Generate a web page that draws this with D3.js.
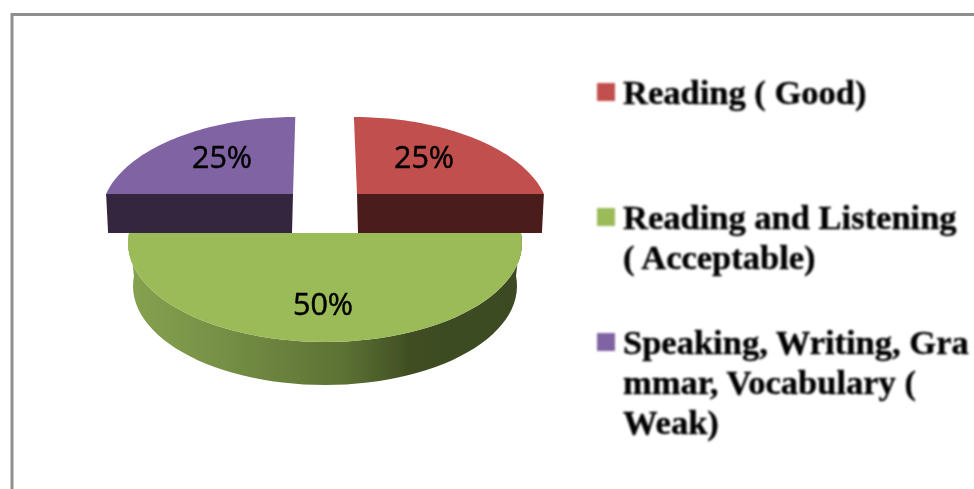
<!DOCTYPE html>
<html>
<head>
<meta charset="utf-8">
<script src="https://cdn.jsdelivr.net/npm/d3@7"></script>
<style>
html, body { margin: 0; padding: 0; background: #fff; overflow: hidden; }
svg { display: block; }
</style>
</head>
<body>
<div id="chart"></div>
<script>
// values
const categories = ["Reading ( Good)", "Reading and Listening ( Acceptable)", "Speaking, Writing, Grammar, Vocabulary ( Weak)"];
const shares = [25, 50, 25];
const legendLines = [
    ["Reading ( Good)"],
    ["Reading and Listening", "( Acceptable)"],
    ["Speaking, Writing, Gra", "mmar, Vocabulary (", "Weak)"]
];
const topColors = ["#c0504d", "#9bbb59", "#8064a2"];
const wallColors = ["#4c1d1b", null, "#35263f"];

const width = 974, height = 489;

// each slice has its own ellipse, the picture is drawn in perspective.
// cy is the cut line, the widest point of the ellipse sits "drop" px below it
const sliceGeo = [
    { cx: 357, cy: 194, drop: 20, rx: 191, ry: 97, depth: 39, shear: 0.04, taper: 2, labelX: 424, labelY: 168 },
    { cx: 325, cy: 233, drop: 10, rx: 197, ry: 99, depth: 43, shear: 0, taper: 5, labelX: 323, labelY: 315 },
    { cx: 293, cy: 194, drop: 20, rx: 191, ry: 97, depth: 39, shear: -0.03, taper: 2, labelX: 222, labelY: 168 }
];

const svg = d3.select("#chart").append("svg")
    .attr("width", width)
    .attr("height", height);

const defs = svg.append("defs");
defs.append("filter").attr("id", "soft")
    .append("feGaussianBlur").attr("stdDeviation", 0.6);
defs.append("filter").attr("id", "softer")
    .append("feGaussianBlur").attr("stdDeviation", 0.8);

const wallGrad = defs.append("linearGradient")
    .attr("id", "wallGreen")
    .attr("gradientUnits", "userSpaceOnUse")
    .attr("x1", 128).attr("x2", 522).attr("y1", 0).attr("y2", 0);
wallGrad.selectAll("stop")
    .data([[0, "#86a250"], [0.25, "#758f45"], [0.55, "#5c7134"], [0.72, "#3f4d22"], [1, "#3c4a20"]])
    .enter().append("stop")
    .attr("offset", d => d[0])
    .attr("stop-color", d => d[1]);

// page frame, open on the right and bottom
svg.append("path")
    .attr("d", d3.line()([[12, height], [12, 14.5], [width, 14.5]]))
    .attr("fill", "none")
    .attr("stroke", "#8e8e8e")
    .attr("stroke-width", 3);

const pie = d3.pie().sort(null)(shares);
const line = d3.line();

// pie angle -> angle on the ellipse, so every slice ends on its cut line
function warp(geo) {
    const limit = Math.acos(geo.drop / geo.ry);
    return d3.scaleLinear()
        .domain([0, Math.PI / 2, 3 * Math.PI / 2, 2 * Math.PI])
        .range([0, limit, 2 * Math.PI - limit, 2 * Math.PI]);
}

function rim(geo, a0, a1, dy, shrink) {
    const n = 60;
    const toEllipse = warp(geo);
    return d3.range(n + 1).map(i => {
        const a = toEllipse(a0 + (a1 - a0) * i / n);
        const y = geo.drop - Math.cos(a) * geo.ry;
        const x = Math.sin(a) * (geo.rx - shrink) + y * geo.shear;
        return [geo.cx + x, geo.cy + y + dy];
    });
}

function frontWall(geo, s) {
    return line([
        [geo.cx, geo.cy],
        [geo.cx + s * (geo.rx * Math.sin(warp(geo)(Math.PI / 2))), geo.cy],
        [geo.cx + s * (geo.rx * Math.sin(warp(geo)(Math.PI / 2)) - geo.taper), geo.cy + geo.depth],
        [geo.cx + s * 1, geo.cy + geo.depth]
    ]) + "Z";
}

const pieG = svg.append("g").attr("filter", "url(#soft)");

// green slice first, the two others sit in front of its back edge
[1, 0, 2].forEach(i => {
    const d = pie[i], geo = sliceGeo[i];
    const top = rim(geo, d.startAngle, d.endAngle, 0, 0);

    if (i === 1) {
        const bottom = rim(geo, d.startAngle, d.endAngle, geo.depth, geo.taper);
        pieG.append("path")
            .attr("d", line(top.concat(bottom.slice().reverse())) + "Z")
            .attr("fill", "url(#wallGreen)");
    } else {
        pieG.append("path")
            .attr("d", frontWall(geo, i === 0 ? 1 : -1))
            .attr("fill", wallColors[i]);
    }

    pieG.append("path")
        .attr("d", line([[geo.cx, geo.cy]].concat(top)) + "Z")
        .attr("fill", topColors[i]);
});

// data labels
svg.append("g").attr("filter", "url(#soft)")
    .selectAll("text")
    .data(shares)
    .enter().append("text")
    .attr("x", (d, i) => sliceGeo[i].labelX)
    .attr("y", (d, i) => sliceGeo[i].labelY)
    .attr("text-anchor", "middle")
    .attr("font-family", "'Open Sans', 'Noto Sans', sans-serif")
    .attr("font-size", 30.5)
    .attr("fill", "#000")
    .attr("stroke", "#000")
    .attr("stroke-width", 0.5)
    .text(d => d + "%");

// legend
const legendBase = [104, 229, 354];
const lineStep = 40;
const legend = svg.append("g").attr("filter", "url(#softer)");

legend.selectAll("rect")
    .data(categories)
    .enter().append("rect")
    .attr("x", 597)
    .attr("y", (d, i) => legendBase[i] - 21)
    .attr("width", 18)
    .attr("height", 18)
    .attr("fill", (d, i) => topColors[i]);

legendLines.forEach((lines, i) => {
    legend.selectAll(null)
        .data(lines)
        .enter().append("text")
        .attr("x", 623)
        .attr("y", (d, j) => legendBase[i] + j * lineStep)
        .attr("font-family", "'Liberation Serif', serif")
        .attr("font-weight", "bold")
        .attr("font-size", 34.5)
        .attr("fill", "#000")
        .attr("stroke", "#000")
        .attr("stroke-width", 0.4)
        .text(d => d);
});
</script>
</body>
</html>
